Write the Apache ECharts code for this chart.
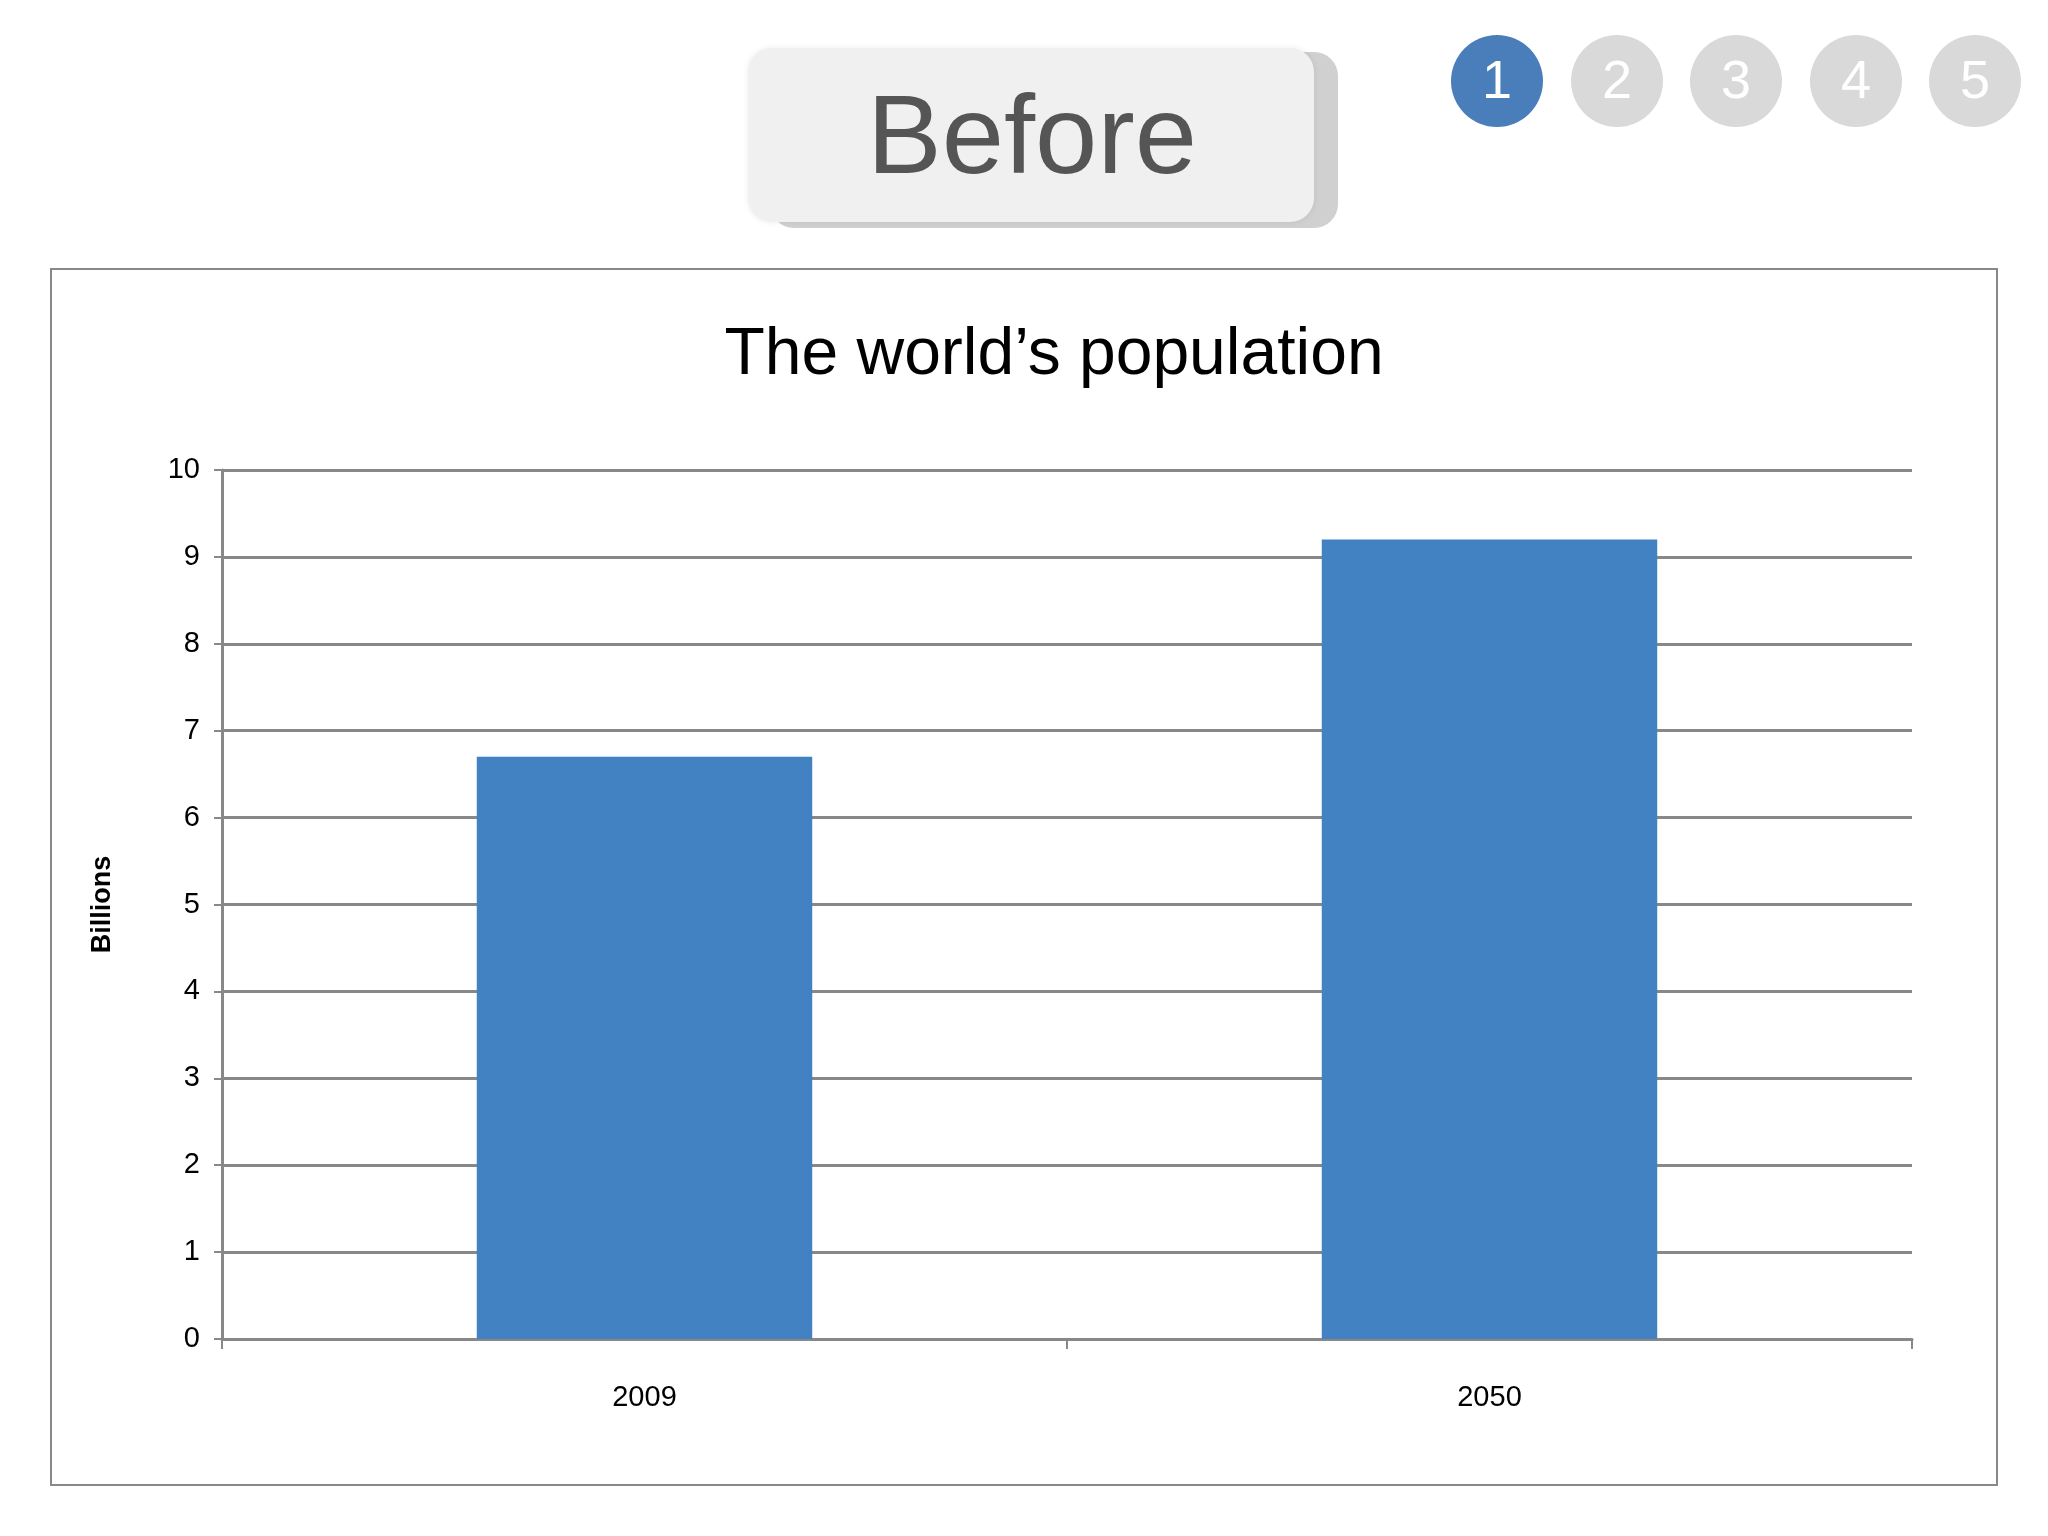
<!DOCTYPE html>
<html>
<head>
<meta charset="utf-8">
<script src="https://cdn.jsdelivr.net/npm/echarts@6/dist/echarts.min.js"></script>
<style>
  html, body { margin: 0; padding: 0; background: #fff; }
  #chart { width: 2048px; height: 1536px; }
</style>
</head>
<body>
<div id="chart"></div>
<script>
// data
const years = ["2009", "2050"];
const population = [6.7, 9.2]; // billions
const steps = ["1", "2", "3", "4", "5"];

const chart = echarts.init(document.getElementById("chart"));

const stepX = [1497, 1617, 1736, 1856, 1975];
const stepCircles = steps.map((s, i) => ({
  type: "group",
  children: [
    {
      type: "circle",
      shape: { cx: stepX[i], cy: 81, r: 46 },
      style: { fill: i === 0 ? "#4a7ebb" : "#d9d9d9" }
    },
    {
      type: "text",
      x: stepX[i], y: 83,
      style: {
        text: s, fill: "#fff", fontSize: 54, fontFamily: "Liberation Sans",
        align: "center", verticalAlign: "middle"
      }
    }
  ]
}));

chart.setOption({
  animation: false,
  title: {
    text: "The world\u2019s population",
    left: 1049, top: 318, textAlign: "center",
    textStyle: { fontSize: 66, fontWeight: "normal", color: "#000", fontFamily: "Liberation Sans" }
  },
  graphic: [
    // chart frame
    { type: "rect", shape: { x: 51, y: 269, width: 1946, height: 1216 },
      style: { fill: "none", stroke: "#888", lineWidth: 2 } },
    // button shadow + face
    { type: "rect", shape: { x: 770, y: 52, width: 568, height: 176, r: 24 },
      style: { fill: "#d0d0d0" } },
    { type: "rect", shape: { x: 748, y: 48, width: 566, height: 174, r: 24 },
      style: { fill: "#f0f0f0", shadowBlur: 6, shadowColor: "rgba(0,0,0,0.08)" } },
    { type: "text", x: 1032, y: 142,
      style: { text: "Before", fontSize: 112, fill: "#555", fontFamily: "Liberation Sans",
        align: "center", verticalAlign: "middle" } },
    ...stepCircles
  ],
  grid: { left: 222, right: 136, top: 470, bottom: 197 },
  xAxis: {
    type: "category",
    data: years,
    axisLine: { lineStyle: { color: "#888", width: 3 } },
    axisTick: { show: true, length: 10, inside: false, lineStyle: { color: "#888", width: 2 } },
    axisLabel: { fontSize: 29, color: "#000", margin: 44, fontFamily: "Liberation Sans" }
  },
  yAxis: {
    type: "value",
    min: 0, max: 10, interval: 1,
    name: "Billions",
    nameLocation: "middle",
    nameGap: 106,
    nameTextStyle: { fontSize: 27, fontWeight: "bold", color: "#000", fontFamily: "Liberation Sans" },
    axisLine: { show: true, lineStyle: { color: "#888", width: 3 } },
    axisTick: { show: true, length: 8, lineStyle: { color: "#888", width: 2 } },
    axisLabel: { fontSize: 29, color: "#000", margin: 22, fontFamily: "Liberation Sans" },
    splitLine: { lineStyle: { color: "#888", width: 3 } }
  },
  series: [{
    type: "bar",
    data: population,
    barWidth: "39.7%",
    itemStyle: { color: "#4281c2" }
  }]
});
</script>
</body>
</html>
